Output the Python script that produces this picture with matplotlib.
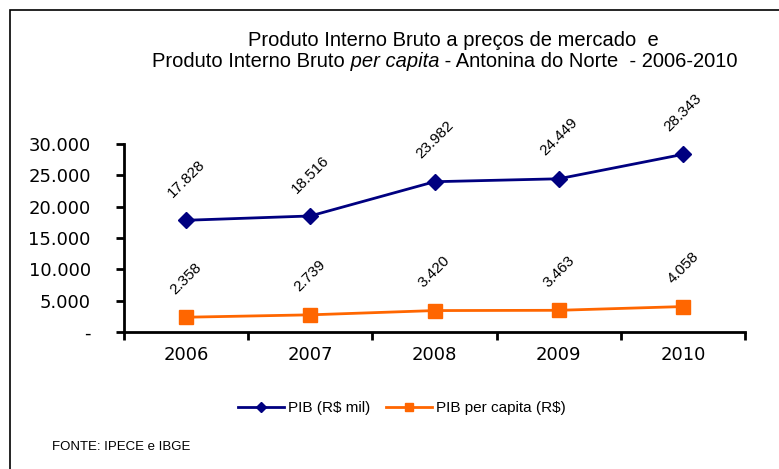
" PIB Antonina do Norte plot "
import matplotlib.pyplot as plt
from matplotlib.ticker import FuncFormatter

anos = ["2006", "2007", "2008", "2009", "2010"]
pib = [17828, 18516, 23982, 24449, 28343]
pib_capita = [2358, 2739, 3420, 3463, 4058]
yticks = [0, 5000, 10000, 15000, 20000, 25000, 30000]

plt.rcParams.update({'font.family': ['Liberation Sans', 'DejaVu Sans']})
fig = plt.figure(figsize=(7.79, 4.69), dpi=100)
ax = fig.add_axes([124/779, 1 - 332/469, (745 - 124)/779, (332 - 144)/469])

# moldura do grafico
fig.add_artist(plt.Rectangle((10/779, -0.1), 1.2, (469 - 10)/469 + 0.1,
                             transform=fig.transFigure, fill=False,
                             edgecolor="black", lw=1.2))

x = range(len(anos))
ax.plot(x, pib, color="#000080", lw=2, marker="D", ms=8,
        label="PIB (R$ mil)")
ax.plot(x, pib_capita, color="#FF6600", lw=2, marker="s", ms=10,
        label="PIB per capita (R$)")

def fmt(v):
    return "{:,}".format(int(v)).replace(",", ".")

for xi, v in zip(x, pib):
    ax.annotate(fmt(v), (xi, v), xytext=(0, 30), textcoords="offset points",
                rotation=45, ha="center", va="center", fontsize=11)
for xi, v in zip(x, pib_capita):
    ax.annotate(fmt(v), (xi, v), xytext=(0, 28), textcoords="offset points",
                rotation=45, ha="center", va="center", fontsize=11)

ax.set_xlim(-0.5, 4.5)
ax.set_ylim(0, 30000)
ax.set_yticks(yticks)
ax.yaxis.set_major_formatter(FuncFormatter(lambda v, p: "-" if v == 0 else fmt(v)))
ax.set_xticks([i - 0.5 for i in range(6)])
ax.set_xticklabels([])
ax.set_xticks(list(x), minor=True)
ax.set_xticklabels(anos, minor=True, fontsize=13, family="DejaVu Sans")
ax.tick_params(axis="x", which="minor", length=0, pad=10)
ax.tick_params(axis="x", which="major", direction="out", length=6, width=2)
ax.tick_params(axis="y", direction="out", length=6, width=2, pad=18)
for t in ax.get_yticklabels():
    t.set_fontsize(13)
    t.set_family("DejaVu Sans")
ax.spines["top"].set_visible(False)
ax.spines["right"].set_visible(False)
ax.spines["left"].set_linewidth(2)
ax.spines["bottom"].set_linewidth(2)
for l in ax.lines:
    l.set_clip_on(False)

fig.text(453/779, 1 - 40/469, "Produto Interno Bruto a preços de mercado  e",
         ha="center", va="center", fontsize=14.5)
t1 = fig.text(152/779, 1 - 61/469, "Produto Interno Bruto",
              ha="left", va="center", fontsize=14.5)
t2 = ax.annotate(" per capita", xy=(1, 0), xycoords=t1, ha="left",
                 va="bottom", fontsize=14.5, style="italic")
ax.annotate(" - Antonina do Norte  - 2006-2010", xy=(1, 0), xycoords=t2,
            ha="left", va="bottom", fontsize=14.5)

fig.legend(loc="center", bbox_to_anchor=(402/779, 1 - 408/469), ncol=2,
           frameon=False, fontsize=11, handlelength=3, columnspacing=1,
           handletextpad=0.3, markerscale=0.6)
fig.text(52/779, 1 - 447/469, "FONTE: IPECE e IBGE", ha="left", va="center",
         fontsize=9.5)

fig.savefig("out.png", dpi=100)
